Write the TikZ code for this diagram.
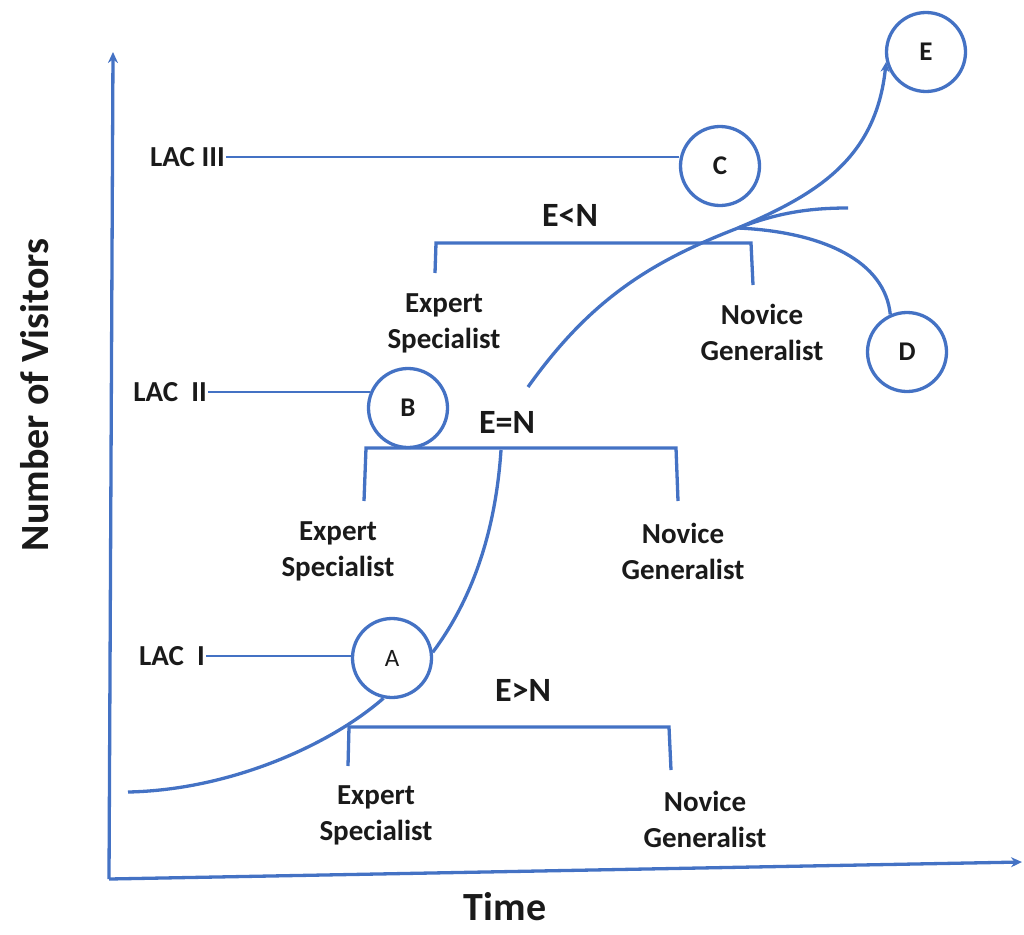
\documentclass[tikz,border=0pt]{standalone}
\usepackage{fontspec}
\setmainfont{Carlito}
\usetikzlibrary{arrows.meta}
\definecolor{blu}{HTML}{4472C4}
\definecolor{ink}{HTML}{1A1A1A}
\begin{document}
\begin{tikzpicture}[x=1pt,y=-1pt,
  line/.style={draw=blu,line width=3.3pt},
  thin/.style={draw=blu,line width=1.8pt},
  circ/.style={circle,draw=blu,line width=3.3pt,minimum size=79pt,inner sep=0pt,text=ink,font=\fontsize{27}{28}\selectfont\bfseries},
  lbl/.style={text=ink,font=\fontsize{29}{36}\selectfont\bfseries,align=center,inner sep=1pt},
  big/.style={text=ink,font=\fontsize{34}{36}\selectfont\bfseries,inner sep=1pt},
  axl/.style={text=ink,font=\fontsize{40}{44}\selectfont\bfseries,inner sep=0pt},
  tip/.style={-{Stealth[length=11pt,width=10pt]}}
]
\useasboundingbox (0,0) rectangle (1024,934);
% axes
\coordinate (O) at (109,879);
\coordinate (Ytop) at (113,52);
\coordinate (Xend) at (1022,862);
\draw[line,tip] (O) -- (Ytop);
\draw[line,tip] (O) -- (Xend);
\node[axl,rotate=90] (ylab) at (35,395) {Number of Visitors};
\node[axl,anchor=base] (xlab) at (505,920) {Time};
% circles
\node[circ,font=\fontsize{25}{28}\selectfont] (A) at (392,658) {A};
\node[circ] (B) at (408,408) {B};
\node[circ] (C) at (720,166) {C};
\node[circ] (D) at (907,352) {D};
\node[circ] (E) at (926,52) {E};
% LAC labels
\node[lbl,anchor=east] (L3) at (226,157) {LAC III};
\node[lbl,anchor=east] (L2) at (208,392) {LAC\ \ II};
\node[lbl,anchor=east] (L1) at (206,656) {LAC\ \ I};
\draw[thin] (L3.east) -- (C.west |- L3.east);
\draw[thin] (L2.east) -- (B.157);
\draw[thin] (L1.east) -- (A.west |- L1.east);
% brackets
\draw[line] (348,766) -- (349,727) -- (669,727) -- (671,770);
\draw[line] (364,501) -- (366,448) -- (676,448) -- (678,501);
\draw[line] (435,273) -- (436,243) -- (751,243) -- (753,285);
% bracket texts
\node[big] (en1) at (523,690) {E>N};
\node[big] (en2) at (507,422) {E=N};
\node[big] (en3) at (570,215) {E<N};
\node[lbl] (x1) at (376,815) {Expert\\Specialist};
\node[lbl] (n1) at (705,819) {Novice\\Generalist};
\node[lbl] (x2) at (338,551) {Expert\\Specialist};
\node[lbl] (n2) at (683,551) {Novice\\Generalist};
\node[lbl] (x3) at (444,323) {Expert\\Specialist};
\node[lbl] (n3) at (762,332) {Novice\\Generalist};
% growth curve
\coordinate (s0) at (128,792);
\coordinate (s1) at (501,450);
\coordinate (s2) at (528,387);
\coordinate (J) at (738,228);
\coordinate (F) at (848,208);
\draw[line] (s0) .. controls (230,790) and (330,745) .. (A.258);
\draw[line] (A.8) .. controls (468,605) and (495,540) .. (s1);
\draw[line] (s2) .. controls (590,300) and (650,262) .. (J);
\draw[line,-{Stealth[length=10pt,width=9pt]}] (J) .. controls (815,195) and (876,160) .. (E.194);
\draw[line] (J) .. controls (775,214) and (805,208) .. (F);
\draw[line] (J) .. controls (825,232) and (885,262) .. (D.114);
\end{tikzpicture}
\end{document}
